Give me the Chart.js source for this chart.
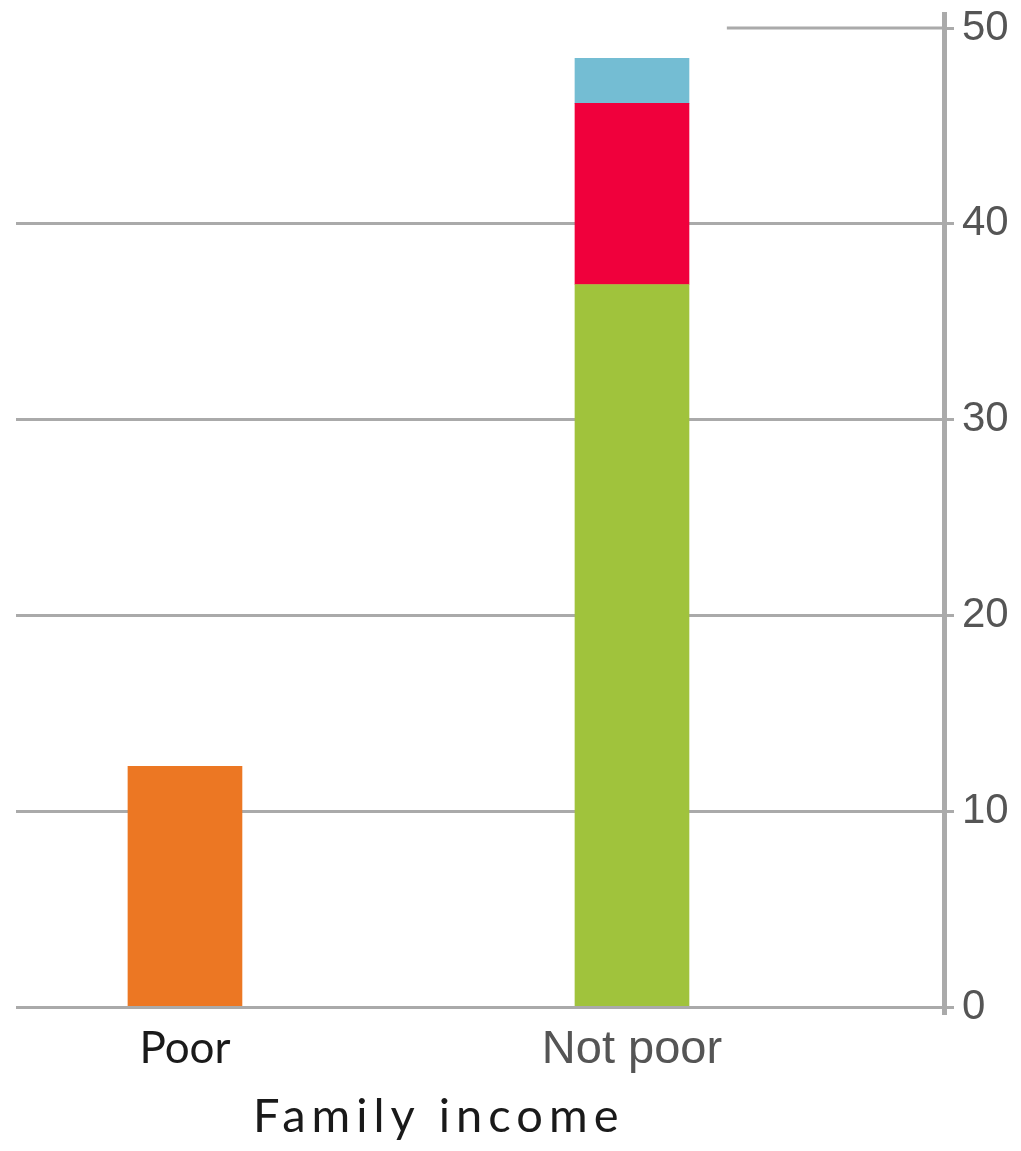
<!DOCTYPE html>
<html>
<head>
<meta charset="utf-8">
<script src="https://cdn.jsdelivr.net/npm/chart.js@4/dist/chart.umd.min.js"></script>
<style>
  html, body { margin: 0; padding: 0; background: #fff; }
  #wrap { position: relative; width: 1021px; height: 1151px; }
</style>
</head>
<body>
<div id="wrap"><canvas id="chart"></canvas></div>
<script>
// categories sit at x = 0 and x = 1 on a linear axis
const categories = ["Poor", "Not poor"];
const categoryPos = [0, 1];
const orangeValues = [12.3, null];
const greenValues = [null, 36.9];
const redValues = [null, 9.25];
const blueValues = [null, 2.3];
const yTicks = [0, 10, 20, 30, 40, 50];
const axisTitle = "Family income";

const toPoints = (vals) =>
  vals.map((v, i) => ({ x: categoryPos[i], y: v })).filter((p) => p.y !== null);

const gridGrey = "#aaaaaa";

const partialTopLine = {
  id: "partialTopLine",
  afterDraw(chart) {
    const { ctx, chartArea, scales } = chart;
    const y = scales.y.getPixelForValue(50);
    const x0 = chartArea.left + (chartArea.right - chartArea.left) * 0.766;
    ctx.save();
    ctx.strokeStyle = gridGrey;
    ctx.lineWidth = 3;
    ctx.beginPath();
    ctx.moveTo(x0, y);
    ctx.lineTo(chartArea.right, y);
    ctx.stroke();
    // axis title, set left of centre like the original
    ctx.fillStyle = "#1a1a1a";
    ctx.font = "47px Lato";
    ctx.letterSpacing = "6px";
    ctx.textBaseline = "alphabetic";
    ctx.textAlign = "left";
    ctx.fillText(axisTitle, scales.x.getPixelForValue(0.152), 1132);
    ctx.restore();
  },
};

new Chart(document.getElementById("chart"), {
  type: "bar",
  data: {
    datasets: [
      { label: "Poor", data: toPoints(orangeValues), backgroundColor: "#EC7723" },
      { label: "Green", data: toPoints(greenValues), backgroundColor: "#A0C33C" },
      { label: "Red", data: toPoints(redValues), backgroundColor: "#F0003C" },
      { label: "Blue", data: toPoints(blueValues), backgroundColor: "#74BDD3" },
    ],
  },
  options: {
    responsive: true,
    maintainAspectRatio: false,
    animation: false,
    barThickness: 114,
    layout: { padding: { left: 16, top: 0, right: 0, bottom: 0 } },
    plugins: { legend: { display: false }, tooltip: { enabled: false } },
    scales: {
      x: {
        type: "linear",
        stacked: true,
        offset: false,
        min: -0.378,
        max: 1.698,
        afterBuildTicks: (s) => { s.ticks = categoryPos.map((v) => ({ value: v })); },
        afterFit: (s) => { s.height = 138; },
        grid: { display: false },
        border: { display: false },
        ticks: {
          padding: 1,
          callback: (v) => categories[categoryPos.indexOf(v)],
          color: (c) => (c.index === 0 ? "#1a1a1a" : "#555555"),
          font: (c) =>
            c.index === 0
              ? { family: "Lato", size: 44 }
              : { family: "Liberation Sans", size: 47 },
        },
      },
      y: {
        position: "right",
        stacked: true,
        min: -0.3,
        max: 50.7,
        afterBuildTicks: (s) => { s.ticks = yTicks.map((v) => ({ value: v })); },
        afterFit: (s) => { s.width = 77; },
        grid: {
          color: (c) => (c.tick && c.tick.value === 50 ? "rgba(0,0,0,0)" : gridGrey),
          tickColor: gridGrey,
          lineWidth: 3,
          tickLength: 10,
          drawTicks: true,
        },
        border: { display: true, color: gridGrey, width: 5 },
        ticks: {
          padding: 8,
          color: "#555555",
          font: { family: "Liberation Sans", size: 42, lineHeight: 0.3 },
        },
      },
    },
  },
  plugins: [partialTopLine],
});
</script>
</body>
</html>
